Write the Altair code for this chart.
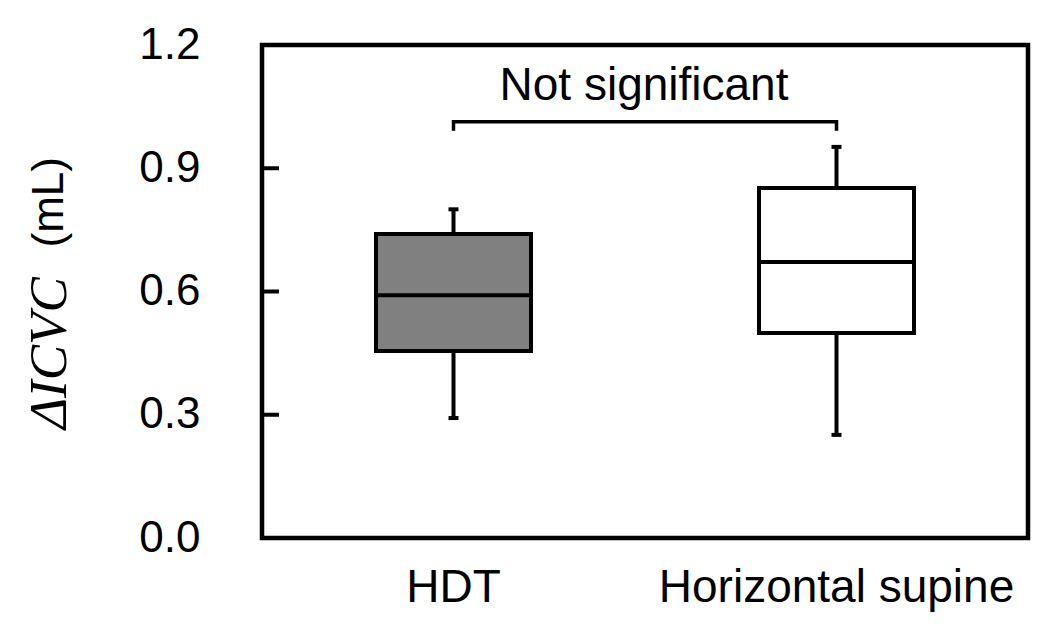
import altair as alt
import pandas as pd

groups = ["HDT", "Horizontal supine"]
whisker_low = [0.292, 0.251]
q1 = [0.455, 0.499]
median = [0.591, 0.672]
q3 = [0.740, 0.852]
whisker_high = [0.800, 0.952]
fills = ["#808080", "#ffffff"]

y_ticks = [0.0, 0.3, 0.6, 0.9, 1.2]
inner_ticks = [0.3, 0.6, 0.9]

bracket_top = 1.013
bracket_end = 0.991
annotation = "Not significant"
annotation_y = 1.065

df = pd.DataFrame({
    "group": groups, "lo": whisker_low, "q1": q1, "med": median,
    "q3": q3, "hi": whisker_high,
})

bracket = pd.DataFrame({
    "group": [groups[0], groups[0], groups[1], groups[1]],
    "y": [bracket_end, bracket_top, bracket_top, bracket_end],
    "order": [0, 1, 2, 3],
})

xs = alt.X("group:N", sort=groups,
           scale=alt.Scale(domain=groups, paddingInner=0, paddingOuter=0),
           axis=alt.Axis(title=None, labelAngle=0, ticks=False, domain=False,
                         labelFontSize=46, labelFont="Liberation Sans",
                         labelColor="black", labelPadding=27, labelLimit=0))
yscale = alt.Scale(domain=[0, 1.2], nice=False, zero=True)
yaxis = alt.Axis(title=None, values=y_ticks, format=".1f", ticks=False,
                 domain=False, grid=False, labelFontSize=44,
                 labelFont="Liberation Sans", labelColor="black",
                 labelPadding=62)

base = alt.Chart(df)

whisk_up = base.mark_rule(color="black", strokeWidth=4).encode(
    x=xs, y=alt.Y("q3:Q", scale=yscale, axis=yaxis), y2="hi:Q")
whisk_dn = base.mark_rule(color="black", strokeWidth=4).encode(
    x=xs, y=alt.Y("lo:Q", scale=yscale), y2="q1:Q")
cap_hi = base.mark_tick(color="black", size=10, thickness=4, opacity=1).encode(
    x=xs, y=alt.Y("hi:Q", scale=yscale))
cap_lo = base.mark_tick(color="black", size=10, thickness=4, opacity=1).encode(
    x=xs, y=alt.Y("lo:Q", scale=yscale))
box = base.mark_bar(size=155, stroke="black", strokeWidth=4, opacity=1).encode(
    x=xs, y=alt.Y("q1:Q", scale=yscale), y2="q3:Q",
    fill=alt.Fill("group:N", scale=alt.Scale(domain=groups, range=fills),
                  legend=None))
med = base.mark_tick(color="black", size=155, thickness=4, opacity=1).encode(
    x=xs, y=alt.Y("med:Q", scale=yscale))

br = alt.Chart(bracket).mark_line(color="black", strokeWidth=3.5).encode(
    x=xs, y=alt.Y("y:Q", scale=yscale), order="order:Q")

note = alt.Chart(pd.DataFrame({"t": [annotation], "y": [annotation_y]})).mark_text(
    font="Liberation Sans", fontSize=46, color="black", align="center",
    baseline="alphabetic").encode(
    x=alt.value(382), y=alt.Y("y:Q", scale=yscale), text="t:N")

ticks_df = pd.DataFrame({"v": inner_ticks})
inner = alt.Chart(ticks_df).mark_rule(color="black", strokeWidth=4).encode(
    y=alt.Y("v:Q", scale=yscale), x=alt.value(0), x2=alt.value(17))

title_df = pd.DataFrame({"a": ["ΔICVC"], "b": ["(mL)"]})
title_a = alt.Chart(title_df).mark_text(
    font="Liberation Serif", fontStyle="italic", fontSize=53, color="black",
    angle=270, align="left", baseline="middle").encode(
    x=alt.value(-212), y=alt.value(384), text="a:N")
title_b = alt.Chart(title_df).mark_text(
    font="Liberation Sans", fontSize=44, color="black",
    angle=270, align="right", baseline="middle").encode(
    x=alt.value(-212), y=alt.value(112), text="b:N")

chart = alt.layer(whisk_up, whisk_dn, cap_hi, cap_lo, box, med, br, note,
                  inner, title_a, title_b).properties(
    width=766, height=493,
    background="white",
    autosize=alt.AutoSizeParams(type="none"),
    padding={"left": 254, "top": 37, "right": 22, "bottom": 78},
).configure_view(stroke="black", strokeWidth=4.5)

chart.save("out.html", embed_options={"renderer": "svg", "actions": False})
